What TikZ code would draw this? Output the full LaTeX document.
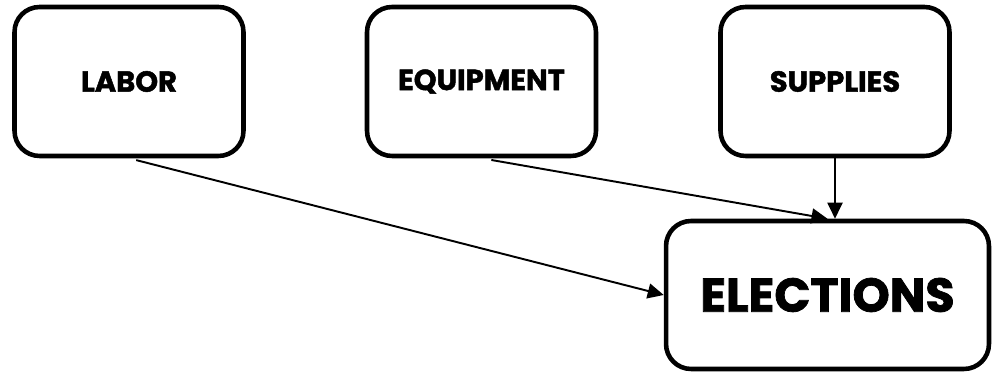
\documentclass[tikz,border=0pt]{standalone}
\usepackage{fontspec}
\setmainfont{Poppins}[BoldFeatures={FakeBold=1.6}]
\usepackage{tikz}
\usetikzlibrary{positioning,arrows.meta}

\begin{document}
\begin{tikzpicture}[
    x=0.02cm, y=-0.02cm,
    box/.style={rectangle, draw=black, fill=white, minimum width=4.58cm, minimum height=2.98cm, align=center, font=\bfseries\fontsize{16.5}{19}\selectfont, rounded corners=0.5cm, line width=2.6pt},
    bigbox/.style={box, minimum width=6.46cm, minimum height=2.96cm, font=\bfseries\fontsize{27}{31}\selectfont},
    arrow/.style={-{Triangle[length=0.32cm, width=0.3cm]}, line width=1.1pt}
]
\useasboundingbox (0,0) rectangle (994,377);

% Nodes
\node[box] (labor) at (129,81.5) {LABOR};
\node[box] (equip) at (481.5,81.5) {EQUIPMENT};
\node[box] (supplies) at (835,81.5) {SUPPLIES};
\node[bigbox] (elections) at (827.5,295) {ELECTIONS};

% Arrows
\draw[arrow, shorten <=0.15cm] (labor.south) -- (elections.west);
\draw[arrow, shorten <=0.2cm] (equip.south) -- (elections.north);
\draw[arrow] (supplies.south) -- (supplies.south |- elections.north);

\end{tikzpicture}
\end{document}
